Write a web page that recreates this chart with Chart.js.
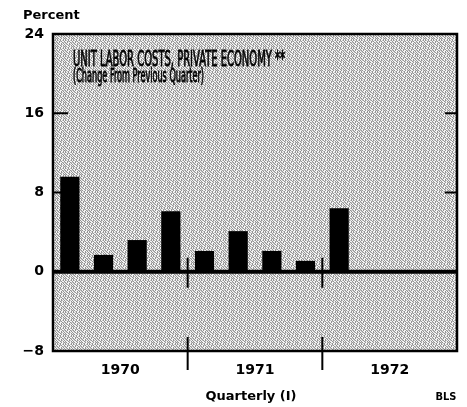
<!DOCTYPE html>
<html>
<head>
<meta charset="utf-8">
<script src="https://cdn.jsdelivr.net/npm/chart.js@4/dist/chart.umd.min.js"></script>
<style>
  html, body { margin: 0; padding: 0; background: #fff; }
  #wrap { width: 467px; height: 407px; }
</style>
</head>
<body>
<div id="wrap"><canvas id="chart_ulc" width="467" height="407"></canvas></div>
<script>
// quarterly change in unit labor costs, private economy (percent)
const quarters = ['I', 'II', 'III', 'IV', 'I', 'II', 'III', 'IV', 'I', 'II', 'III', 'IV'];
const years = ['1970', '1971', '1972'];
const change = [9.6, 1.7, 3.2, 6.1, 2.1, 4.1, 2.1, 1.1, 6.4, null, null, null];
const yTicks = [-8, 0, 8, 16, 24];

const FONT = '"DejaVu Sans", sans-serif';
const NARROW = '"Liberation Sans Narrow", "DejaVu Sans Condensed", sans-serif';

// halftone-like stipple for the plot background (8x8 tile)
const STIPPLE = [
    '.#:.#.:#',
    '#..#:#..',
    ':#.#..#:',
    '.:#..#.#',
    '#.:#.#:.',
    '.#..#:.#',
    '#:#..#.:',
    '.#.:#..#'
];
function makeStipple() {
    const c = document.createElement('canvas');
    c.width = 8; c.height = 8;
    const g = c.getContext('2d');
    const shade = {'.': '#f4f4f4', ':': '#c4c4c4', '#': '#949494'};
    STIPPLE.forEach((row, j) => {
        row.split('').forEach((ch, i) => {
            g.fillStyle = shade[ch];
            g.fillRect(i, j, 1, 1);
        });
    });
    return g.createPattern(c, 'repeat');
}

// draw text squeezed to a given width (the original uses a very condensed face)
function squeezeText(ctx, text, x, y, w) {
    const m = ctx.measureText(text).width;
    ctx.save();
    ctx.translate(x, y);
    ctx.scale(w / m, 1);
    ctx.fillText(text, 0, 0);
    ctx.lineWidth = 0.8;
    ctx.strokeText(text, 0, 0);
    ctx.restore();
}

const decor = {
    id: 'decor',
    beforeDatasetsDraw(chart) {
        const {ctx, chartArea: a} = chart;
        ctx.save();
        ctx.fillStyle = makeStipple();
        ctx.fillRect(a.left, a.top, a.right - a.left, a.bottom - a.top);
        ctx.restore();
    },
    afterDatasetsDraw(chart) {
        const {ctx, chartArea: a, scales: {x, y}} = chart;
        const y0 = y.getPixelForValue(0);
        ctx.save();
        ctx.strokeStyle = '#000';

        // short ticks inside the frame
        ctx.lineWidth = 2;
        [8, 16].forEach(v => {
            const py = y.getPixelForValue(v);
            ctx.beginPath();
            ctx.moveTo(a.left, py); ctx.lineTo(a.left + 15, py);
            ctx.moveTo(a.right - 12, py); ctx.lineTo(a.right, py);
            ctx.stroke();
        });

        // zero line
        ctx.lineWidth = 4;
        ctx.beginPath();
        ctx.moveTo(a.left, y0); ctx.lineTo(a.right, y0);
        ctx.stroke();

        // frame
        ctx.lineWidth = 2.5;
        ctx.strokeRect(a.left, a.top, a.right - a.left, a.bottom - a.top);

        // year dividers and labels
        ctx.lineWidth = 2;
        ctx.fillStyle = '#000';
        ctx.font = 'bold 14px ' + FONT;
        ctx.textAlign = 'center';
        ctx.textBaseline = 'middle';
        years.forEach((yr, i) => {
            const first = x.getPixelForValue(i * 4);
            const last = x.getPixelForValue(i * 4 + 3);
            const half = (x.getPixelForValue(1) - x.getPixelForValue(0)) / 2;
            ctx.fillText(yr, (first + last) / 2, a.bottom + 19);
            if (i > 0) {
                const px = first - half;
                ctx.beginPath();
                ctx.moveTo(px, y0 - 14); ctx.lineTo(px, y0 + 16);
                ctx.moveTo(px, a.bottom - 14); ctx.lineTo(px, a.bottom + 19);
                ctx.stroke();
            }
        });

        ctx.font = 'bold 13px ' + FONT;
        ctx.fillText('Quarterly (I)', 251, 397);
        ctx.font = 'bold 11px ' + NARROW;
        ctx.fillText('BLS', 446, 397);

        ctx.textAlign = 'left';
        ctx.font = 'bold 13px ' + FONT;
        ctx.fillText('Percent', 23, 16);

        // title inside the plot
        ctx.textBaseline = 'alphabetic';
        ctx.font = '22px ' + NARROW;
        squeezeText(ctx, 'UNIT LABOR COSTS, PRIVATE ECONOMY **', 73, 66, 212);
        ctx.font = '20px ' + NARROW;
        squeezeText(ctx, '(Change From Previous Quarter)', 73, 82, 131);
        ctx.restore();
    }
};

const ctx = document.getElementById('chart_ulc').getContext('2d');
const chart = new Chart(ctx, {
    type: 'bar',
    data: {
        labels: quarters,
        datasets: [{
            label: 'Unit labor costs',
            data: change,
            backgroundColor: '#000',
            borderWidth: 0,
            barPercentage: 0.57,
            categoryPercentage: 1.0
        }]
    },
    options: {
        responsive: false,
        animation: false,
        layout: {padding: {left: 0, top: 34, right: 10, bottom: 56}},
        plugins: {
            legend: {display: false},
            tooltip: {enabled: false}
        },
        scales: {
            x: {display: false},
            y: {
                min: -8,
                max: 24,
                afterFit: s => { s.width = 53; },
                afterBuildTicks: s => { s.ticks = yTicks.map(v => ({value: v})); },
                grid: {display: false, drawTicks: false},
                border: {display: false},
                ticks: {
                    padding: 9,
                    color: '#000',
                    font: {family: FONT, size: 14, weight: 'bold'},
                    callback: v => v < 0 ? '\u2212' + Math.abs(v) : String(v)
                }
            }
        }
    },
    plugins: [decor]
});
</script>
</body>
</html>
